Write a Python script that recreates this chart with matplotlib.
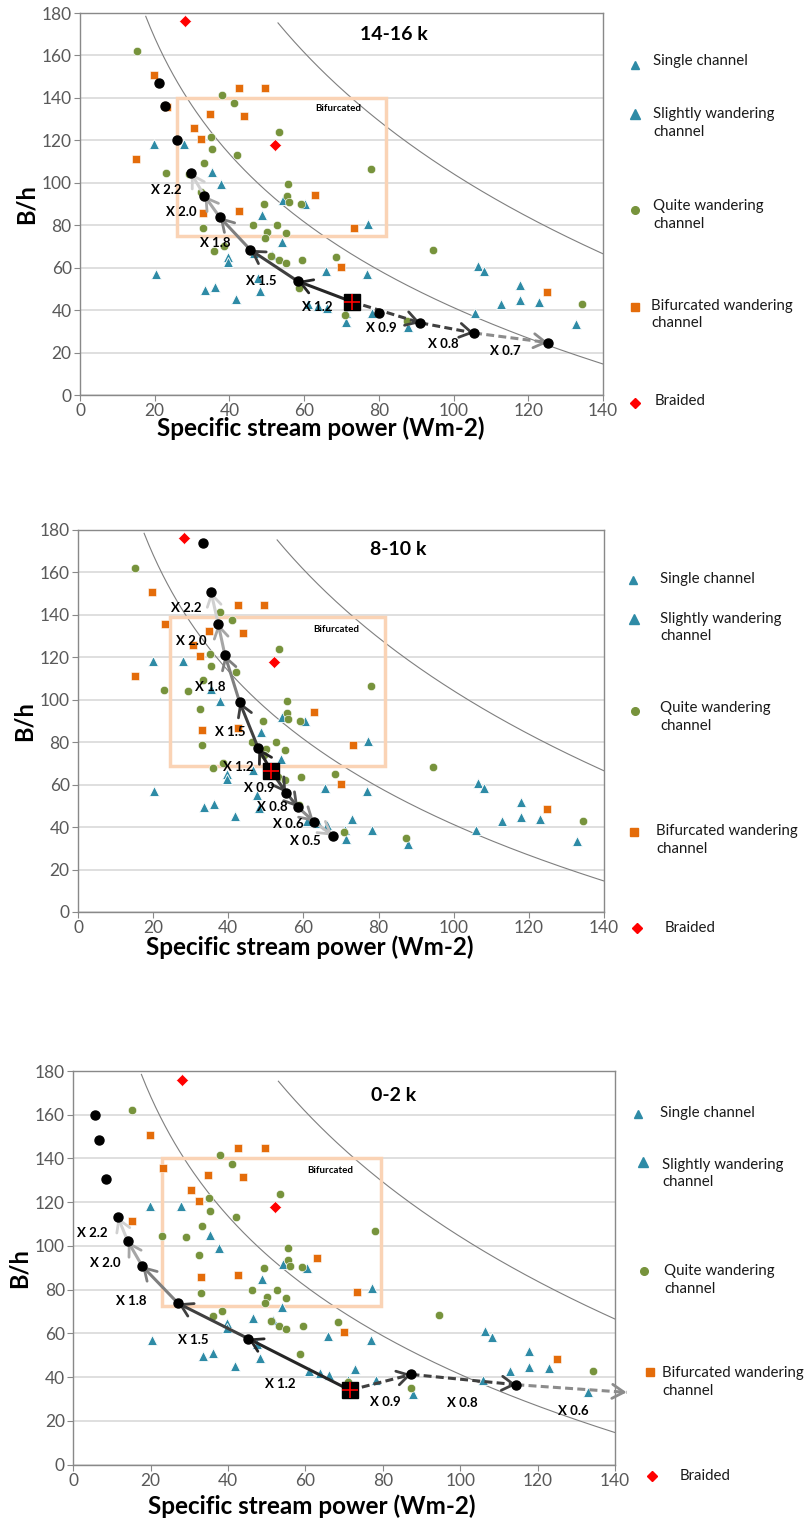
import matplotlib
matplotlib.use("Agg")
import matplotlib.pyplot as plt
from matplotlib.lines import Line2D
import numpy as np

plt.rcParams["font.family"] = ["Lato", "DejaVu Sans"]

W, H = 808, 1533

# background observations (same in every panel)
tri_x = [19.9, 27.9, 35.3, 37.7, 54.3, 60.3, 48.8, 77.1, 54.0, 39.7, 39.7, 46.5, 51.5,
         65.8, 76.9, 20.3, 47.6, 48.2, 33.5, 36.2, 41.8, 60.9, 63.8, 66.2, 71.1, 71.2,
         72.9, 78.2, 87.9, 106.5, 108.1, 117.8, 117.8, 122.9, 112.8, 105.8, 132.9]
tri_y = [118.1, 118.4, 104.9, 99.2, 91.7, 90.1, 84.9, 80.7, 72.0, 64.8, 62.5, 67.0, 66.0,
         58.6, 57.1, 57.1, 55.3, 48.9, 49.5, 50.8, 45.1, 42.9, 42.0, 41.0, 38.6, 34.3,
         43.7, 38.5, 32.2, 61.0, 58.3, 51.9, 44.8, 44.0, 42.8, 38.8, 33.3]

green_x = [15.2, 37.9, 41.1, 53.4, 35.2, 35.3, 42.1, 33.3, 22.9, 29.2, 78.0, 55.6, 55.5,
           32.5, 55.9, 59.2, 49.3, 33.0, 46.3, 50.0, 52.7, 49.5, 55.1, 36.0, 38.5, 51.0,
           53.2, 55.1, 59.4, 68.4, 58.7, 70.9, 94.6, 87.4, 134.4]
green_y = [162.3, 141.5, 137.4, 123.9, 121.8, 116.0, 113.2, 109.1, 104.6, 104.0, 106.6, 99.2,
           93.7, 95.8, 91.0, 90.2, 89.8, 78.6, 79.9, 76.7, 79.9, 74.0, 76.1, 67.9, 70.3,
           65.5, 63.4, 62.1, 63.4, 65.2, 50.6, 37.7, 68.4, 35.0, 42.8]

orange_x = [19.8, 42.6, 49.6, 23.2, 34.8, 43.9, 30.5, 32.4, 15.1, 62.9, 33.0, 42.6, 73.3,
            69.9, 124.9]
orange_y = [150.8, 144.8, 144.8, 135.8, 132.2, 131.3, 125.6, 120.6, 111.2, 94.3, 85.7, 86.8,
            78.9, 60.5, 48.3]

red_x = [28.1, 52.2]
red_y = [176.0, 117.6]

# trajectories per panel
titles = ["14-16 k", "8-10 k", "0-2 k"]
ref_pts = [(72.7, 44.0), (51.4, 66.6), (71.5, 34.0)]

up_x = [[58.3, 45.6, 37.4, 33.3, 29.7],
        [48.0, 43.0, 39.1, 37.3, 35.4],
        [45.2, 27.1, 17.8, 14.1, 11.5]]
up_y = [[53.6, 68.4, 83.8, 93.9, 104.6],
        [77.1, 99.0, 121.1, 135.9, 150.9],
        [57.6, 73.7, 90.8, 102.1, 113.2]]
up_labels = ["X 1.2", "X 1.5", "X 1.8", "X 2.0", "X 2.2"]
up_lab_x = [[63.5, 48.4, 36.3, 27.0, 23.2],
            [42.7, 40.6, 35.1, 30.2, 28.7],
            [53.4, 31.0, 14.9, 8.2, 5.0]]
up_lab_y = [[41.4, 53.5, 71.8, 86.2, 96.7],
            [68.5, 84.7, 105.9, 127.9, 143.4],
            [36.8, 57.0, 74.9, 92.0, 106.0]]
up_colors = ["#262626", "#404040", "#7f7f7f", "#a6a6a6", "#d0d0d0"]

extra_x = [[25.9, 22.8, 21.1], [33.3], [8.5, 6.6, 5.6]]
extra_y = [[120.1, 136.2, 146.9], [173.7], [130.7, 148.3, 159.9]]

down_x = [[91.1, 105.5, 125.3],
          [55.4, 58.6, 62.8, 67.8],
          [87.4, 114.5, 143.0]]
down_y = [[34.0, 29.2, 24.7],
          [56.2, 49.3, 42.6, 36.0],
          [41.2, 36.5, 33.0]]
down_labels = [["X 0.9", "X 0.8", "X 0.7"],
               ["X 0.9", "X 0.8", "X 0.6", "X 0.5"],
               ["X 0.9", "X 0.8", "X 0.6"]]
down_lab_x = [[80.7, 97.2, 113.9], [48.2, 51.7, 56.0, 60.5], [80.6, 100.5, 129.3]]
down_lab_y = [[31.7, 24.0, 20.7], [58.6, 49.6, 41.6, 33.3], [28.7, 28.3, 24.6]]
down_colors = [["#404040", "#404040", "#8c8c8c"],
               ["#404040", "#595959", "#8c8c8c", "#bfbfbf"],
               ["#404040", "#404040", "#8c8c8c"]]
down_dashed = [True, False, True]
# extra dots on the descending path / whether last arrow end has a dot
down_mid_x = [[80.0], [], []]
down_mid_y = [[38.8], [], []]
down_last_dot = [True, True, False]

rects = [(26.0, 75.0, 82.0, 140.0), (24.6, 69.0, 81.8, 139.0), (22.8, 72.5, 79.6, 140.0)]
bif_lab = [(62.9, 134.9), (62.7, 132.9), (60.5, 134.4)]
title_pos = [(84.0, 170.0), (85.1, 170.7), (82.8, 168.6)]

# axes boxes in pixels: left, top, right, bottom
boxes = [(80, 13, 603, 395), (78, 530, 604, 912), (73.3, 1071, 615, 1464.5)]
xlabel_pad = [-2, -1, 4]
xlabel_x = [0.461, 0.441, 0.441]

legend_labels = ["Single channel", "Slightly wandering\nchannel", "Quite wandering\nchannel",
                 "Bifurcated wandering\nchannel", "Braided"]
legend_marker_pos = [[(634.7, 65), (634.7, 114.3), (634.7, 210.3), (634.7, 306.7), (634.7, 402.7)],
                     [(633, 580), (634, 619), (635, 711), (634, 832), (637, 928)],
                     [(638, 1114), (643, 1162), (644, 1271), (650, 1372), (652, 1476)]]
legend_text_pos = [[(653, 61), (653, 123), (653, 215), (651, 314.5), (655, 400.7)],
                   [(660, 579), (660, 627.5), (660, 717), (656, 840), (665, 928)],
                   [(660, 1113), (662, 1173.5), (664, 1280), (662, 1382), (680, 1476)]]

TRI_C = "#2E8BA6"
GREEN_C = "#77933C"
ORANGE_C = "#E46C0A"
RED_C = "#FF0000"
legend_styles = [dict(marker="^", color=TRI_C, ms=6),
                 dict(marker="^", color=TRI_C, ms=7),
                 dict(marker="o", color=GREEN_C, ms=5.5),
                 dict(marker="s", color=ORANGE_C, ms=5.5),
                 dict(marker="D", color=RED_C, ms=5.5)]


def draw_arrow(ax, x0, y0, x1, y1, color, dashed):
    ls = (0, (2.6, 1.4)) if dashed else "-"
    ax.plot([x0, x1], [y0, y1], color=color, lw=2.2, ls=ls, zorder=5, clip_on=False,
            solid_capstyle="butt")
    dx, dy = x1 - x0, y1 - y0
    ax.annotate("", xy=(x1, y1), xytext=(x1 - 0.05 * dx, y1 - 0.05 * dy),
                arrowprops=dict(arrowstyle="->,head_length=0.7,head_width=0.42",
                                color=color, lw=2.0, shrinkA=0, shrinkB=0,
                                mutation_scale=12),
                annotation_clip=False, zorder=5)


fig = plt.figure(figsize=(W / 100, H / 100), dpi=100)

for i in range(3):
    l, t, r, b = boxes[i]
    ax = fig.add_axes([l / W, 1 - b / H, (r - l) / W, (b - t) / H])
    ax.set_xlim(0, 140)
    ax.set_ylim(0, 180)
    ax.set_xticks(np.arange(0, 141, 20))
    ax.set_yticks(np.arange(0, 181, 20))
    ax.yaxis.grid(True, color="#d9d9d9", lw=1.2)
    ax.set_axisbelow(True)
    for s in ax.spines.values():
        s.set_color("#898989")
        s.set_linewidth(1.0)
    ax.tick_params(direction="out", length=4, color="#898989", labelsize=12.5,
                   labelcolor="#595959", pad=2)
    ax.set_xlabel("Specific stream power (Wm-2)", fontsize=17.5, fontweight="bold",
                  labelpad=xlabel_pad[i], x=xlabel_x[i])
    ax.set_ylabel("B/h", fontsize=17, fontweight="bold", labelpad=3)

    # curves
    xc1 = np.linspace(17.6, 140, 200)
    ax.plot(xc1, 405 - 79 * np.log(xc1), color="#7f7f7f", lw=0.8, zorder=2)
    xc2 = np.linspace(53.0, 140, 200)
    ax.plot(xc2, 620 - 112 * np.log(xc2), color="#7f7f7f", lw=0.8, zorder=2)

    # bifurcated box
    x0, y0, x1, y1 = rects[i]
    ax.add_patch(plt.Rectangle((x0, y0), x1 - x0, y1 - y0, fill=False,
                               ec="#FAD3B5", lw=2.5, zorder=2))
    ax.text(bif_lab[i][0], bif_lab[i][1], "Bifurcated", fontsize=7, fontweight="bold",
            ha="left", va="center", zorder=3)
    ax.text(title_pos[i][0], title_pos[i][1], titles[i], fontsize=14, fontweight="bold",
            ha="center", va="center")

    # observations
    ax.plot(tri_x, tri_y, "^", color=TRI_C, ms=7, mec="white", mew=0.6, ls="none", zorder=3)
    ax.plot(green_x, green_y, "o", color=GREEN_C, ms=6, mec="white", mew=0.4, ls="none", zorder=3)
    ax.plot(orange_x, orange_y, "s", color=ORANGE_C, ms=5.5, mec="white", mew=0.4, ls="none", zorder=3)
    ax.plot(red_x, red_y, "D", color=RED_C, ms=6, mec="white", mew=0.4, ls="none", zorder=3)

    # trajectories
    rx, ry = ref_pts[i]
    cx, cy = [rx] + up_x[i], [ry] + up_y[i]
    for k in range(len(up_x[i])):
        draw_arrow(ax, cx[k], cy[k], cx[k + 1], cy[k + 1], up_colors[k], False)
        ax.text(up_lab_x[i][k], up_lab_y[i][k], up_labels[k], fontsize=9.5,
                fontweight="bold", ha="center", va="center", zorder=6)
    cx, cy = [rx] + down_x[i], [ry] + down_y[i]
    for k in range(len(down_x[i])):
        draw_arrow(ax, cx[k], cy[k], cx[k + 1], cy[k + 1], down_colors[i][k], down_dashed[i])
        ax.text(down_lab_x[i][k], down_lab_y[i][k], down_labels[i][k], fontsize=9.5,
                fontweight="bold", ha="center", va="center", zorder=6)

    dots_x = up_x[i] + extra_x[i] + down_mid_x[i] + (down_x[i] if down_last_dot[i] else down_x[i][:-1])
    dots_y = up_y[i] + extra_y[i] + down_mid_y[i] + (down_y[i] if down_last_dot[i] else down_y[i][:-1])
    ax.plot(dots_x, dots_y, "o", color="black", ms=6.5, ls="none", zorder=7, clip_on=False)
    ax.plot([rx], [ry], "s", color="black", ms=11, zorder=8)
    ax.plot([rx], [ry], "+", color="red", ms=11, mew=1.2, zorder=9)

    # legend on the right
    for k in range(5):
        mx, my = legend_marker_pos[i][k]
        st = legend_styles[k]
        fig.add_artist(Line2D([mx / W], [1 - my / H], marker=st["marker"], color=st["color"],
                              ms=st["ms"], ls="none", transform=fig.transFigure))
        tx, ty = legend_text_pos[i][k]
        fig.text(tx / W, 1 - ty / H, legend_labels[k], fontsize=10.8, ha="left", va="center",
                 linespacing=1.3, color="#1a1a1a")

fig.savefig("out.png", dpi=100)
